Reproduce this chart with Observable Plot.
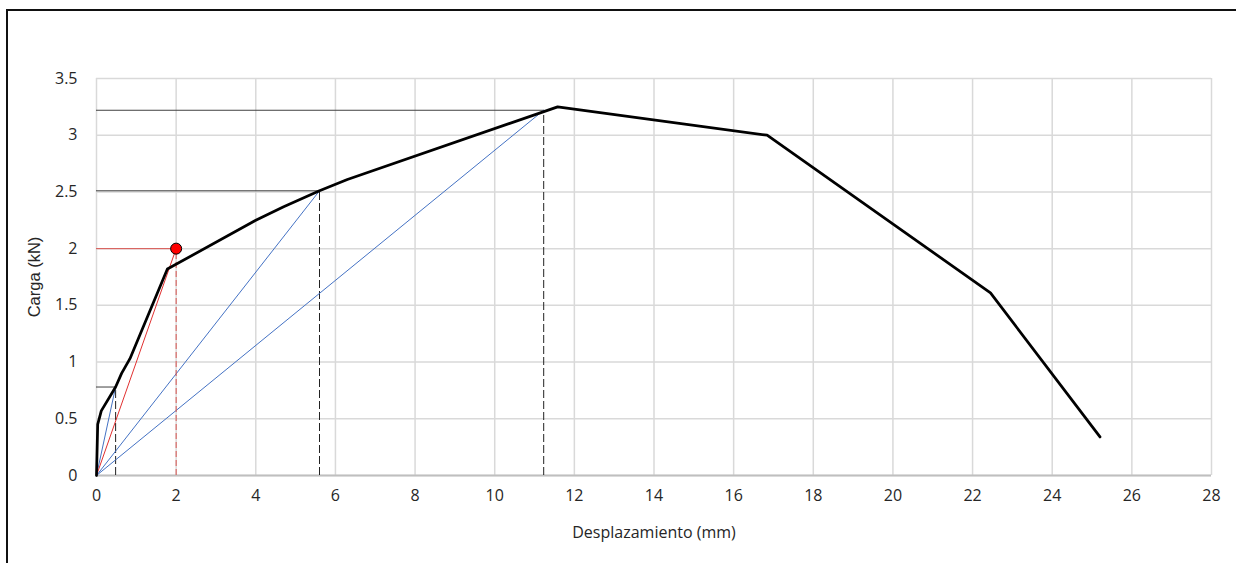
<!DOCTYPE html>
<html><head><meta charset="utf-8">
<script src="https://cdn.jsdelivr.net/npm/d3@7"></script>
<script src="https://cdn.jsdelivr.net/npm/@observablehq/plot@0.6"></script>
<style>
body{margin:0;background:#fff;}
#wrap{position:relative;width:1236px;height:563px;overflow:hidden;}
#wrap svg{position:absolute;left:0;top:0;}
#border{position:absolute;left:6px;top:9px;width:1300px;height:700px;border-top:2px solid #111;border-left:2px solid #111;}
g[aria-label="y-axis label"] text{font-family:"Liberation Sans",Arial,sans-serif;font-size:16.5px;}
</style></head><body><div id="wrap"><div id="border"></div></div>
<script>
// Curva carga-desplazamiento
const curveX = [0, 0.03, 0.12, 0.48, 0.63, 0.84, 1.78, 4.0, 4.7, 5.6, 6.3, 11.58, 16.84, 22.45, 25.2];
const curveY = [0, 0.45, 0.57, 0.78, 0.90, 1.03, 1.82, 2.25, 2.37, 2.51, 2.61, 3.25, 3.00, 1.61, 0.34];
// Puntos de referencia (rigidez secante)
const refX = [0.48, 5.6, 11.23];
const refY = [0.78, 2.51, 3.22];
// Punto rojo
const redX = [2];
const redY = [2];
// Ticks
const xTicks = [0, 2, 4, 6, 8, 10, 12, 14, 16, 18, 20, 22, 24, 26, 28];
const yTicks = [0, 0.5, 1, 1.5, 2, 2.5, 3, 3.5];
const xLabel = "Desplazamiento (mm)";
const yLabel = "Carga (kN)";

const curve = curveX.map((x, i) => ({x, y: curveY[i]}));
const refs = refX.map((x, i) => ({x, y: refY[i]}));
const reds = redX.map((x, i) => ({x, y: redY[i]}));
const secants = refs.flatMap((d, i) => [{x: 0, y: 0, k: i}, {x: d.x, y: d.y, k: i}]);
const redSec = reds.flatMap((d, i) => [{x: 0, y: 0, k: i}, {x: d.x, y: d.y, k: i}]);

const chart = Plot.plot({
  width: 1236,
  height: 563,
  marginLeft: 96,
  marginRight: 25,
  marginTop: 78,
  marginBottom: 88,
  style: {fontFamily: "'Open Sans', sans-serif", fontSize: "16px", color: "#262626", background: "transparent"},
  x: {domain: [0, 28]},
  y: {domain: [0, 3.5]},
  marks: [
    Plot.gridX(xTicks, {stroke: "#d9d9d9", strokeOpacity: 1, strokeWidth: 1.5}),
    Plot.gridY(yTicks, {stroke: "#d9d9d9", strokeOpacity: 1, strokeWidth: 1.5}),
    Plot.axisX(xTicks, {tickSize: 0, tickPadding: 14, tickFormat: d => `${d}`, label: xLabel, labelAnchor: "center", labelArrow: "none", labelOffset: 62}),
    Plot.axisY(yTicks, {tickSize: 0, tickPadding: 19, tickFormat: d => `${d}`, label: yLabel, labelAnchor: "center", labelArrow: "none", labelOffset: 68}),
    Plot.ruleY([0], {stroke: "#bfbfbf", strokeWidth: 2}),
    Plot.ruleY(refs, {y: "y", x1: 0, x2: "x", stroke: "#404040", strokeWidth: 1}),
    Plot.ruleX(refs, {x: "x", y1: 0, y2: "y", stroke: "#222", strokeWidth: 1, strokeDasharray: "8,3"}),
    Plot.line(secants, {x: "x", y: "y", z: "k", stroke: "#4472C4", strokeWidth: 1}),
    Plot.ruleY(reds, {y: "y", x1: 0, x2: "x", stroke: "#d9534f", strokeWidth: 1}),
    Plot.ruleX(reds, {x: "x", y1: 0, y2: "y", stroke: "#d9534f", strokeWidth: 1, strokeDasharray: "6,3"}),
    Plot.line(redSec, {x: "x", y: "y", z: "k", stroke: "#e03030", strokeWidth: 1}),
    Plot.line(curve, {x: "x", y: "y", stroke: "#000", strokeWidth: 2.75}),
    Plot.dot(reds, {x: "x", y: "y", r: 5.5, fill: "#ff0000", stroke: "#000", strokeWidth: 1})
  ]
});
document.getElementById("wrap").prepend(chart);
</script>
</body></html>
